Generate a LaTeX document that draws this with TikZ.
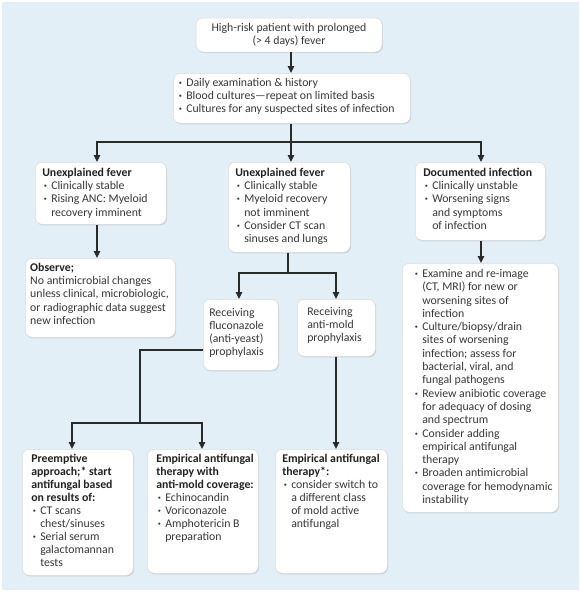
\documentclass[tikz,border=0pt]{standalone}
\usepackage{fontspec}
\setmainfont{Carlito}
\usetikzlibrary{arrows.meta,shadows}
\definecolor{bgblue}{HTML}{E3EFF6}
\definecolor{txt}{HTML}{383838}
\definecolor{hdc}{HTML}{222222}
\definecolor{lnc}{HTML}{2A2A2A}
\newcommand{\fs}{\fontsize{11.8}{13.2}\selectfont}
\newcommand{\bxt}[3]{\parbox[c][#2][t]{#1}{\raggedright\rightskip=-16pt plus 1fil\fs #3}}
\newcommand{\itm}[1]{\par{\let\\\newline\hangindent=9pt\hangafter=1\noindent\makebox[9pt][l]{\hspace{1.5pt}\textbf{·}}#1\par}}
\newcommand{\hd}[1]{{\bfseries\color{hdc}#1\par}}
\begin{document}
\begin{tikzpicture}[x=1pt,y=-1pt,
  bx/.style={rounded corners=7pt, fill=white, draw=black!14, line width=0.5pt,
    drop shadow={shadow xshift=0.8pt,shadow yshift=-1pt,opacity=0.28},
    anchor=north west, inner xsep=6pt, inner ysep=6pt, text=txt},
  ln/.style={draw=lnc, line width=1.3pt},
  arr/.style={ln, -{Triangle[length=7pt,width=6.5pt]}}]
\useasboundingbox (0,0) rectangle (581,592);
\fill[bgblue] (2,2) rectangle (579,590);

% boxes
\node[bx, anchor=center, inner sep=0pt, minimum width=186pt, minimum height=34pt, align=center, font=\fs] (top) at (289,35)
  {High-risk patient with prolonged\\(> 4 days) fever};
\node[bx, inner xsep=4pt, inner ysep=5pt] (checks) at (173,73)
  {\bxt{229pt}{40pt}{\itm{Daily examination \& history}\itm{Blood cultures—repeat on limited basis}\itm{Cultures for any suspected sites of infection}}};
\node[bx, inner xsep=7pt] (unexp1) at (35,162)
  {\bxt{117pt}{50pt}{\hd{Unexplained fever}\itm{Clinically stable}\itm{Rising ANC: Myeloid\\recovery imminent}}};
\node[bx, inner xsep=7pt] (unexp2) at (228,162)
  {\bxt{108pt}{78pt}{\hd{Unexplained fever}\itm{Clinically stable}\itm{Myeloid recovery\\not imminent}\itm{Consider CT scan\\sinuses and lungs}}};
\node[bx, inner xsep=8pt] (doc) at (415,162)
  {\bxt{114pt}{66pt}{\hd{Documented infection}\itm{Clinically unstable}\itm{Worsening signs\\and symptoms\\of infection}}};
\node[bx, inner xsep=5pt, inner ysep=5pt] (observe) at (25,258)
  {\bxt{140pt}{69pt}{\hd{Observe;}No antimicrobial changes\\unless clinical, microbiologic,\\or radiographic data suggest\\new infection}};
\node[bx, inner xsep=6pt, inner ysep=9pt] (fluco) at (203,299)
  {\bxt{63pt}{53pt}{Receiving\\fluconazole\\(anti-yeast)\\prophylaxis}};
\node[bx, inner xsep=10pt, inner ysep=8pt] (antimold) at (297,299)
  {\bxt{58pt}{41pt}{Receiving\\anti-mold\\prophylaxis}};
\node[bx, inner xsep=11pt, inner ysep=6pt] (bigright) at (402,263)
  {\bxt{134pt}{237pt}{\fontsize{11.8}{13.3}\selectfont
   \itm{Examine and re-image\\(CT, MRI) for new or\\worsening sites of\\infection}%
   \itm{Culture/biopsy/drain\\sites of worsening\\infection; assess for\\bacterial, viral, and\\fungal pathogens}%
   \itm{Review anibiotic coverage\\for adequacy of dosing\\and spectrum}%
   \itm{Consider adding\\empirical antifungal\\therapy}%
   \itm{Broaden antimicrobial\\coverage for hemodynamic\\instability}}};
\node[bx, inner xsep=9pt, inner ysep=5pt] (preempt) at (22,449)
  {\bxt{93pt}{116pt}{\fontsize{11.8}{13}\selectfont\hd{Preemptive\\approach;* start\\antifungal based\\on results of:}\itm{CT scans\\chest/sinuses}\itm{Serial serum\\galactomannan\\tests}}};
\node[bx, inner xsep=9pt, inner ysep=5pt] (empir1) at (147,449)
  {\bxt{93pt}{114pt}{\fontsize{11.8}{13}\selectfont\hd{Empirical antifungal\\therapy with\\anti-mold coverage:}\itm{Echinocandin}\itm{Voriconazole}\itm{Amphotericin B\\preparation}}};
\node[bx, inner xsep=7pt, inner ysep=5pt] (empir2) at (275,449)
  {\bxt{98pt}{114pt}{\fontsize{11.8}{13}\selectfont\hd{Empirical antifungal\\therapy*:}\itm{consider switch to\\a different class\\of mold active\\antifungal}}};

% junction points
\coordinate (s1) at (291,142);
\coordinate (h1l) at (97,142);
\coordinate (h1r) at (481,142);
\coordinate (m1) at (288,273);
\coordinate (m2) at (239,273);
\coordinate (m3) at (336,273);
\coordinate (f1) at (140,350);
\coordinate (f2) at (140,423);
\coordinate (f3) at (72,423);
\coordinate (f4) at (202,423);

% connectors
\draw[arr] (top.south -| s1) -- (s1 |- checks.north);
\draw[ln] (checks.south -| s1) -- (s1);
\draw[arr] (s1) -- (h1l) -- (h1l |- unexp1.north);
\draw[arr] (s1) -- (h1r) -- (h1r |- doc.north);
\draw[arr] (s1) -- (s1 |- unexp2.north);
\draw[arr] (unexp1.south -| h1l) -- (h1l |- observe.north);
\draw[arr] (doc.south -| h1r) -- (h1r |- bigright.north);
\draw[ln] (unexp2.south -| m1) -- (m1);
\draw[arr] (m1) -- (m2) -- (m2 |- fluco.north);
\draw[arr] (m1) -- (m3) -- (m3 |- antimold.north);
\draw[arr] (antimold.south -| m3) -- (m3 |- empir2.north);
\draw[ln] (fluco.west |- f1) -- (f1) -- (f2);
\draw[arr] (f2) -- (f3) -- (f3 |- preempt.north);
\draw[arr] (f2) -- (f4) -- (f4 |- empir1.north);
\end{tikzpicture}
\end{document}
